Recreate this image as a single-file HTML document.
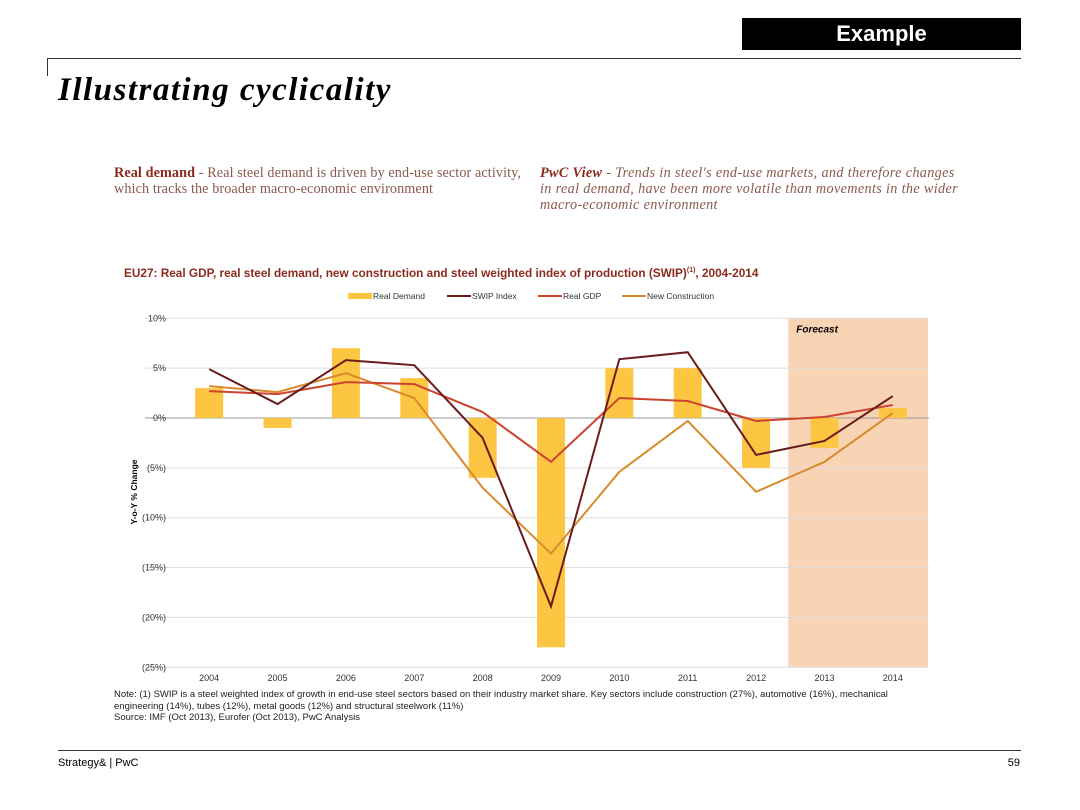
<!DOCTYPE html>
<html><head><meta charset="utf-8"><style>
body{margin:0;background:#fff;font-family:"Liberation Sans",sans-serif;}
#page{position:relative;width:1080px;height:810px;overflow:hidden;background:#fff}
.abs{position:absolute}
.serif{font-family:"Liberation Serif",serif}
</style></head><body>
<div id="page">
<div class="abs" style="left:742px;top:18px;width:279px;height:32px;background:#000;color:#fff;font-weight:bold;font-size:22px;line-height:32px;text-align:center">Example</div>
<div class="abs" style="left:47px;top:58px;width:974px;height:1px;background:#333"></div>
<div class="abs" style="left:47px;top:58px;width:1px;height:18px;background:#333"></div>
<div class="abs serif" style="left:58px;top:72px;font-size:33px;font-weight:bold;font-style:italic;letter-spacing:1.5px">Illustrating cyclicality</div>
<div class="abs serif" style="left:114px;top:165px;white-space:nowrap;font-size:14.2px;line-height:16px;color:#8a5a4a;letter-spacing:0.1px"><b style="color:#8b2b1e">Real demand</b> - Real steel demand is driven by end-use sector activity,<br>which tracks the broader macro-economic environment</div>
<div class="abs serif" style="left:540px;top:165px;white-space:nowrap;font-size:14.2px;line-height:16px;color:#8a5a4a;font-style:italic;letter-spacing:0.35px"><b style="color:#8b2b1e">PwC View</b> - Trends in steel's end-use markets, and therefore changes<br>in real demand, have been more volatile than movements in the wider<br>macro-economic environment</div>
<div class="abs" style="left:124px;top:266px;font-size:11.8px;font-weight:bold;color:#8b2b1e">EU27: Real GDP, real steel demand, new construction and steel weighted index of production (SWIP)<sup style="font-size:7px">(1)</sup>, 2004-2014</div>
<svg class="abs" style="left:0;top:0" width="1080" height="810" id="chart"></svg>
<div class="abs" style="left:114px;top:689px;width:800px;font-size:9.5px;line-height:11.5px;color:#222">Note: (1) SWIP is a steel weighted index of growth in end-use steel sectors based on their industry market share. Key sectors include construction (27%), automotive (16%), mechanical engineering (14%), tubes (12%), metal goods (12%) and structural steelwork (11%)<br>Source: IMF (Oct 2013), Eurofer (Oct 2013), PwC Analysis</div>
<div class="abs" style="left:58px;top:750px;width:963px;height:1px;background:#333"></div>
<div class="abs" style="left:58px;top:757px;font-size:11px">Strategy&amp; | PwC</div>
<div class="abs" style="left:1000px;top:757px;width:20px;text-align:right;font-size:11px">59</div>
</div>
<script>
const years=["2004","2005","2006","2007","2008","2009","2010","2011","2012","2013","2014"];
const realDemand=[3,-1,7,4,-6,-23,5,5,-5,-3,1];
const swip=[4.9,1.4,5.8,5.3,-2,-18.9,5.9,6.6,-3.7,-2.3,2.2];
const gdp=[2.7,2.4,3.6,3.4,0.6,-4.4,2.0,1.7,-0.3,0.1,1.3];
const construction=[3.2,2.6,4.5,2.0,-7,-13.6,-5.4,-0.3,-7.4,-4.4,0.5];
const yTicks=[10,5,0,-5,-10,-15,-20,-25];
const yLabels=["10%","5%","0%","(5%)","(10%)","(15%)","(20%)","(25%)"];
const forecastStart=9;
const NS="http://www.w3.org/2000/svg";
const svg=document.getElementById('chart');
const x0=175,x1=927,bw=(x1-x0)/years.length;
const xc=i=>x0+bw*(i+0.5);
const y=v=>418-v*9.97;
function mk(t,a){const e=document.createElementNS(NS,t);for(const k in a)e.setAttribute(k,a[k]);svg.appendChild(e);return e;}
let r=mk('rect',{x:x0+bw*forecastStart-2,y:y(10),width:x1+3-(x0+bw*forecastStart),height:y(-25)-y(10),fill:'#f8d3b4'});

let ft=mk('text',{x:x0+bw*forecastStart+6,y:y(10)+14,'font-size':10,'font-weight':'bold','font-style':'italic','font-family':'Liberation Sans'});ft.textContent='Forecast';

yTicks.forEach((t,i)=>{
 let g=mk('line',{x1:x0-30,x2:x1+2,y1:y(t),y2:y(t),stroke:t===0?'#999':'#ddd','stroke-width':1});
 
 let tx=mk('text',{x:166,y:y(t)+3,'font-size':9,'text-anchor':'end',fill:'#333','font-family':'Liberation Sans'});tx.textContent=yLabels[i];
 
});
years.forEach((yr,i)=>{
 let v=realDemand[i];
 let b=mk('rect',{x:xc(i)-14,y:Math.min(y(v),y(0)),width:28,height:Math.abs(y(v)-y(0)),fill:'#fcc643'});
 
 let tx=mk('text',{x:xc(i),y:681,'font-size':9,'text-anchor':'middle',fill:'#333','font-family':'Liberation Sans'});tx.textContent=yr;
 
});
function line(d,c,n){let p=mk('polyline',{points:d.map((v,i)=>xc(i)+','+y(v)).join(' '),fill:'none',stroke:c,'stroke-width':2});
 }
line(construction,'#d88a2c','new-construction-line');
line(gdp,'#cc4430','real-gdp-line');
line(swip,'#6a1b1b','swip-index-line');
let yt=mk('text',{x:0,y:0,'font-size':8.5,'font-weight':'bold','text-anchor':'middle','font-family':'Liberation Sans',transform:'translate(137,492) rotate(-90)'});yt.textContent='Y-o-Y % Change';

const leg=[['Real Demand','#fcc643',348,6],['SWIP Index','#6a1b1b',447,2],['Real GDP','#cc4430',538,2],['New Construction','#d88a2c',622,2]];
leg.forEach(l=>{
 let g=mk('rect',{x:l[2],y:296-l[3]/2,width:24,height:l[3],fill:l[1]});
 let t=mk('text',{x:l[2]+25,y:299,'font-size':8.5,fill:'#333','font-family':'Liberation Sans'});t.textContent=l[0];
 
});
</script>
</body></html>
